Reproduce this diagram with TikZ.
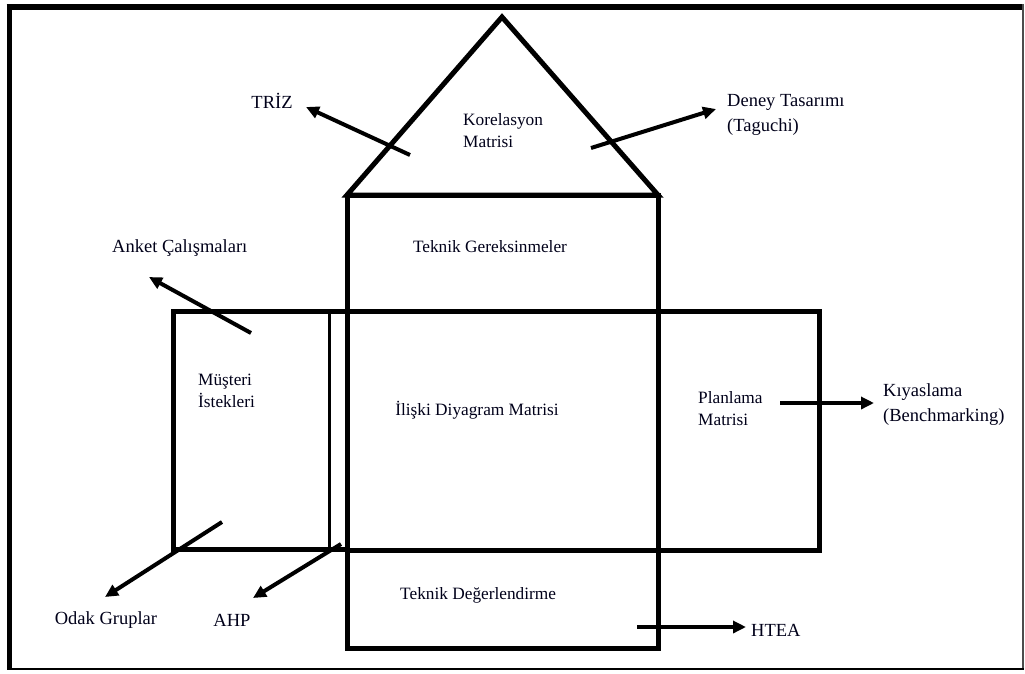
\documentclass[tikz,border=0pt]{standalone}
\usepackage{fontspec}
\setmainfont{Liberation Serif}
\usetikzlibrary{arrows.meta}
\begin{document}
\begin{tikzpicture}[x=1pt,y=-1pt,
  boxline/.style={line width=5pt, line join=miter},
  conn/.style={line width=4pt, -{Triangle[length=13pt,width=12pt]}},
  outer/.style={inner sep=0pt, font=\fontsize{18.5}{25}\selectfont, align=left, text=black!90!blue},
  inner/.style={inner sep=0pt, font=\fontsize{17.3}{22}\selectfont, align=left, text=black!90!blue}]
\useasboundingbox (0,0) rectangle (1025,673);
% frame
\draw[line width=6pt] (6.5,7) -- (1022.5,7);
\draw[line width=5pt] (9.5,4) -- (9.5,670);
\draw[line width=2pt, black!70] (1022.5,4) -- (1022.5,670);
\draw[line width=2.6pt] (7,669) -- (1023.5,669);
% roof
\draw[boxline] (502,17) -- (347,195) -- (658,195) -- cycle;
% columns
\draw[boxline] (347,195) rectangle (658,311.5);
\draw[boxline] (347,311.5) rectangle (658,550.5);
\draw[boxline] (347,550.5) rectangle (658,648.5);
\draw[line width=4.5pt] (347,311.5) -- (173.5,311.5) -- (173.5,549.5) -- (347,549.5);
\draw[line width=3pt] (329,311.5) -- (329,549.5);
\draw[line width=4.5pt] (658,311.5) -- (819.5,311.5) -- (819.5,550.5) -- (658,550.5);
% labels
\node[outer] (triz) at (272,101) {TRİZ};
\node[inner, anchor=west] (kor) at (463,131) {Korelasyon\\Matrisi};
\node[outer, anchor=west] (deney) at (727,115) {Deney Tasarımı\\(Taguchi)};
\node[inner] (tek) at (490,247) {Teknik Gereksinmeler};
\node[outer, anchor=west] (anket) at (112,248) {Anket Çalışmaları};
\node[inner, anchor=west] (mus) at (198,391) {Müşteri\\İstekleri};
\node[inner] (iliski) at (477,410) {İlişki Diyagram Matrisi};
\node[inner, anchor=west] (plan) at (698,409) {Planlama\\Matrisi};
\node[outer, anchor=west] (kiyas) at (883,405) {Kıyaslama\\(Benchmarking)};
\node[outer] (odak) at (106,620) {Odak Gruplar};
\node[outer] (ahp) at (232,620) {AHP};
\node[inner, anchor=west] (deger) at (400,595) {Teknik Değerlendirme};
\node[outer, anchor=west] (htea) at (751,630) {HTEA};
% connector ends
\coordinate (trizS) at (410,155);   \coordinate (trizE) at (306,107);
\coordinate (deneyS) at (591,148);  \coordinate (deneyE) at (716,109);
\coordinate (anketS) at (251,333);  \coordinate (anketE) at (149,277);
\coordinate (odakS) at (222,522);   \coordinate (odakE) at (105,597);
\coordinate (ahpS) at (341,544);    \coordinate (ahpE) at (253,598);
\coordinate (kiyasS) at (780,403);  \coordinate (kiyasE) at (874,403);
\coordinate (hteaS) at (637,627);   \coordinate (hteaE) at (746,627);
\draw[conn] (trizS) -- (trizE);
\draw[conn] (deneyS) -- (deneyE);
\draw[conn] (anketS) -- (anketE);
\draw[conn] (odakS) -- (odakE);
\draw[conn] (ahpS) -- (ahpE);
\draw[conn] (kiyasS) -- (kiyasE);
\draw[conn] (hteaS) -- (hteaE);
\end{tikzpicture}
\end{document}
